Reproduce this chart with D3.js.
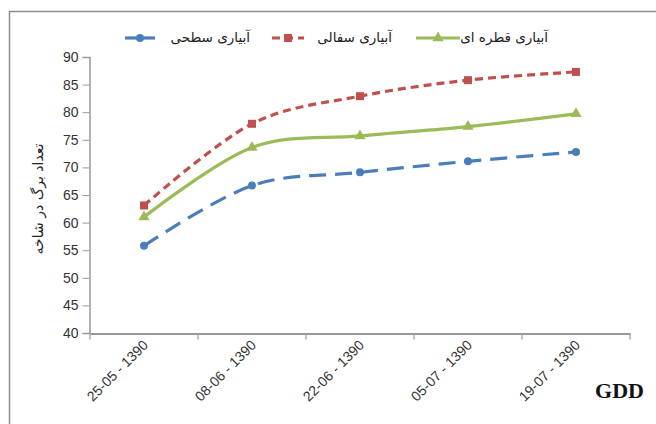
<!DOCTYPE html>
<html><head><meta charset="utf-8">
<script src="https://cdn.jsdelivr.net/npm/d3@7"></script>
<style>body{margin:0;background:#fff}svg{display:block}</style>
</head><body>
<script>
const categories = ["25-05 - 1390","08-06 - 1390","22-06 - 1390","05-07 - 1390","19-07 - 1390"];
const surface = [55.8, 66.7, 69.1, 71.1, 72.8];   // آبیاری سطحی
const pitcher = [63.1, 77.9, 82.9, 85.8, 87.3];   // آبیاری سفالی
const drip    = [61.0, 73.6, 75.7, 77.4, 79.7];   // آبیاری قطره ای
const yTicks = [40,45,50,55,60,65,70,75,80,85,90];
const seriesNames = ["آبیاری سطحی","آبیاری سفالی","آبیاری قطره ای"];

const W=656,H=424;
const svg=d3.select("body").append("svg").attr("width",W).attr("height",H);
svg.append("rect").attr("x",9.5).attr("y",11.5).attr("width",W).attr("height",H).attr("fill","none").attr("stroke","#8c8c8c").attr("stroke-width",1.5);

const x=d3.scaleBand().domain(categories).range([90,630]).padding(0);
const y=d3.scaleLinear().domain([40,90]).range([333,57]);

// y axis
const ya=svg.append("g").attr("transform","translate(89.5,0)")
  .call(d3.axisLeft(y).tickValues(yTicks).tickSize(7).tickPadding(4));
ya.select(".domain").attr("stroke","#999").attr("stroke-width",1.5);
ya.selectAll(".tick line").attr("stroke","#999").attr("stroke-width",1);
ya.selectAll("text").attr("font-family","Liberation Sans, Arial").attr("font-size",14).attr("fill","#333");

// x axis
const xa=svg.append("g").attr("transform","translate(0,333.5)")
  .call(d3.axisBottom(x).tickSize(0).tickPadding(0));
xa.select(".domain").attr("stroke","#999").attr("stroke-width",2);
xa.selectAll(".tick text").remove();
const bounds=[...categories.map(c=>x(c)), x.range()[1]];
xa.selectAll(".bt").data(bounds).enter().append("line").attr("class","bt")
  .attr("x1",d=>d).attr("x2",d=>d).attr("y1",0).attr("y2",6).attr("stroke","#999").attr("stroke-width",1.2);
svg.append("g").selectAll("text").data(categories).enter().append("text")
  .attr("transform",d=>`translate(${x(d)+x.bandwidth()/2+5},${346}) rotate(-45)`)
  .attr("text-anchor","end").attr("font-family","Liberation Sans, Arial").attr("font-size",14).attr("fill","#333")
  .text(d=>d);

svg.append("text").attr("x",644).attr("y",398).attr("text-anchor","end")
  .attr("font-family","Liberation Serif, Times New Roman").attr("font-weight","bold").attr("font-size",22).attr("fill","#111").text("GDD");

svg.append("text").attr("transform","translate(43,199) rotate(-90)").attr("text-anchor","middle")
  .attr("font-family","DejaVu Sans").attr("font-size",14).attr("fill","#222").text("تعداد برگ در شاخه");

const series=[
 {name:seriesNames[0],vals:surface,color:"#4A7EBB",dash:"17,9",marker:"circle"},
 {name:seriesNames[1],vals:pitcher,color:"#C0504D",dash:"8,5",marker:"square"},
 {name:seriesNames[2],vals:drip,color:"#9BBB59",dash:null,marker:"triangle"}
];
const line=d3.line().x((d,i)=>x(categories[i])+x.bandwidth()/2).y(d=>y(d)).curve(d3.curveCardinal.tension(0));
function marker(g,type,color,cx,cy){
  if(type==="circle") g.append("circle").attr("cx",cx).attr("cy",cy).attr("r",4).attr("fill",color);
  else if(type==="square") g.append("rect").attr("x",cx-4).attr("y",cy-4).attr("width",8).attr("height",8).attr("fill",color);
  else g.append("path").attr("d",d3.symbol(d3.symbolTriangle,55)()).attr("transform",`translate(${cx},${cy})`).attr("fill",color);
}
series.forEach(s=>{
  const g=svg.append("g");
  g.append("path").attr("d",line(s.vals)).attr("fill","none").attr("stroke",s.color).attr("stroke-width",3.2)
   .attr("stroke-dasharray",s.dash);
  s.vals.forEach((v,i)=>marker(g,s.marker,s.color,x(categories[i])+x.bandwidth()/2,y(v)));
});

// legend
const leg=[{s:series[0],x1:125,x2:155,tx:250},{s:series[1],x1:272,x2:304,tx:392},{s:series[2],x1:416,x2:460,tx:548}];
leg.forEach(l=>{
  const g=svg.append("g");
  g.append("line").attr("x1",l.x1).attr("x2",l.x2).attr("y1",38).attr("y2",38).attr("stroke",l.s.color).attr("stroke-width",3.2)
   .attr("stroke-dasharray",l.s.marker==="square"?"8,5":null);
  marker(g,l.s.marker,l.s.color,(l.x1+l.x2)/2,38);
  g.append("text").attr("x",l.tx).attr("y",42).attr("text-anchor","end").attr("font-family","DejaVu Sans").attr("font-size",13.5).attr("fill","#222").text(l.s.name);
});
</script>
</body></html>
